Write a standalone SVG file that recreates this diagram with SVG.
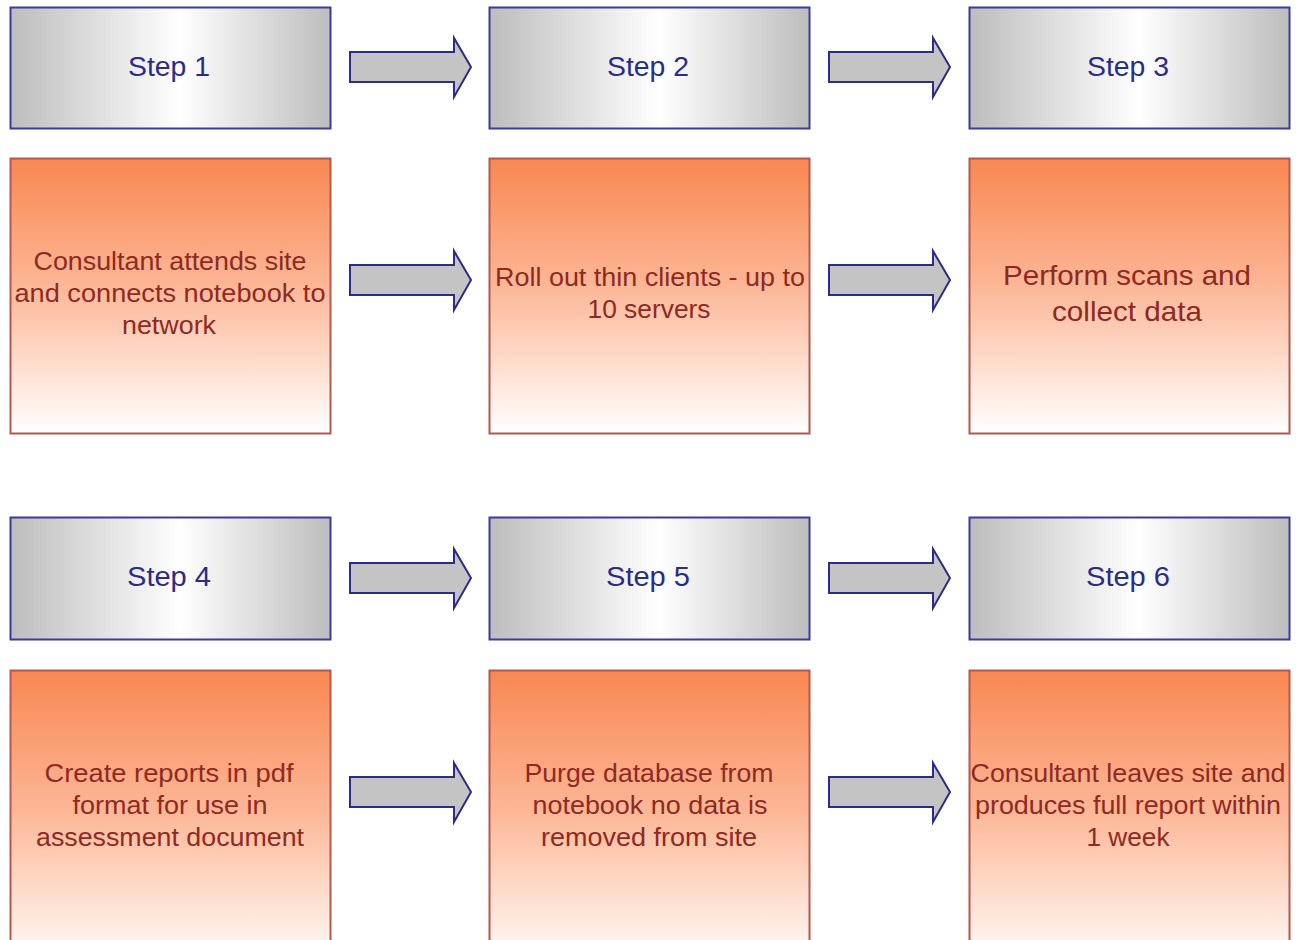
<svg xmlns="http://www.w3.org/2000/svg" width="1303" height="940" viewBox="0 0 1303 940">
<defs>
<linearGradient id="gstep" x1="0" y1="0" x2="1" y2="0">
<stop offset="0" stop-color="#bdbdbd"/>
<stop offset="0.53" stop-color="#ffffff"/>
<stop offset="1" stop-color="#bdbdbd"/>
</linearGradient>
<linearGradient id="gorange" x1="0" y1="0" x2="0" y2="1">
<stop offset="0" stop-color="#f98752"/>
<stop offset="0.45" stop-color="#fcb594"/>
<stop offset="1" stop-color="#ffffff"/>
</linearGradient>
<linearGradient id="gorange2" x1="0" y1="0" x2="0" y2="1">
<stop offset="0" stop-color="#f98752"/>
<stop offset="0.47" stop-color="#fcb594"/>
<stop offset="1" stop-color="#fffbf9"/>
</linearGradient>
</defs>
<style>
.step{fill:url(#gstep);stroke:#3b3b9e;stroke-width:2}
.task{fill:url(#gorange);stroke:#b4594f;stroke-width:2}
.task2{fill:url(#gorange2);stroke:#b4594f;stroke-width:2}
.st{font-family:"Liberation Sans",Arial,sans-serif;font-size:27px;fill:#2b2b8c;text-anchor:middle}
.tt{font-family:"Liberation Sans",Arial,sans-serif;font-size:26px;fill:#8e2a22;text-anchor:middle}
.tb{font-family:"Liberation Sans",Arial,sans-serif;font-size:28.5px;fill:#8e2a22;text-anchor:middle}
.arr{fill:#c4c4c4;stroke:#2b2b8c;stroke-width:2;stroke-linejoin:miter}
</style>
<g id="step1"><rect class="step" x="10.5" y="7.5" width="320" height="121"/><text class="st" x="169" y="76" textLength="82" lengthAdjust="spacingAndGlyphs">Step 1</text></g>
<g id="step2"><rect class="step" x="489.5" y="7.5" width="320" height="121"/><text class="st" x="648" y="76" textLength="82" lengthAdjust="spacingAndGlyphs">Step 2</text></g>
<g id="step3"><rect class="step" x="969.5" y="7.5" width="320" height="121"/><text class="st" x="1128" y="76" textLength="82" lengthAdjust="spacingAndGlyphs">Step 3</text></g>
<g id="task1"><rect class="task" x="10.5" y="158.5" width="320" height="275"/>
<text class="tt" x="170" y="270" textLength="273" lengthAdjust="spacingAndGlyphs">Consultant attends site</text>
<text class="tt" x="170" y="302" textLength="311" lengthAdjust="spacingAndGlyphs">and connects notebook to</text>
<text class="tt" x="169" y="334" textLength="94" lengthAdjust="spacingAndGlyphs">network</text></g>
<g id="task2"><rect class="task" x="489.5" y="158.5" width="320" height="275"/>
<text class="tt" x="650" y="286" textLength="310" lengthAdjust="spacingAndGlyphs">Roll out thin clients - up to</text>
<text class="tt" x="649" y="318" textLength="123" lengthAdjust="spacingAndGlyphs">10 servers</text></g>
<g id="task3"><rect class="task" x="969.5" y="158.5" width="320" height="275"/>
<text class="tb" x="1127" y="285" textLength="248" lengthAdjust="spacingAndGlyphs">Perform scans and</text>
<text class="tb" x="1127" y="321" textLength="150" lengthAdjust="spacingAndGlyphs">collect data</text></g>
<g id="step4"><rect class="step" x="10.5" y="517.5" width="320" height="122"/><text class="st" x="169" y="586" textLength="84" lengthAdjust="spacingAndGlyphs">Step 4</text></g>
<g id="step5"><rect class="step" x="489.5" y="517.5" width="320" height="122"/><text class="st" x="648" y="586" textLength="84" lengthAdjust="spacingAndGlyphs">Step 5</text></g>
<g id="step6"><rect class="step" x="969.5" y="517.5" width="320" height="122"/><text class="st" x="1128" y="586" textLength="84" lengthAdjust="spacingAndGlyphs">Step 6</text></g>
<g id="task4"><rect class="task2" x="10.5" y="670.5" width="320" height="290"/>
<text class="tt" x="169" y="782" textLength="249" lengthAdjust="spacingAndGlyphs">Create reports in pdf</text>
<text class="tt" x="170" y="814" textLength="195" lengthAdjust="spacingAndGlyphs">format for use in</text>
<text class="tt" x="170" y="846" textLength="268" lengthAdjust="spacingAndGlyphs">assessment document</text></g>
<g id="task5"><rect class="task2" x="489.5" y="670.5" width="320" height="290"/>
<text class="tt" x="649" y="782" textLength="249" lengthAdjust="spacingAndGlyphs">Purge database from</text>
<text class="tt" x="650" y="814" textLength="235" lengthAdjust="spacingAndGlyphs">notebook no data is</text>
<text class="tt" x="649" y="846" textLength="216" lengthAdjust="spacingAndGlyphs">removed from site</text></g>
<g id="task6"><rect class="task2" x="969.5" y="670.5" width="320" height="290"/>
<text class="tt" x="1128" y="782" textLength="315" lengthAdjust="spacingAndGlyphs">Consultant leaves site and</text>
<text class="tt" x="1128" y="814" textLength="306" lengthAdjust="spacingAndGlyphs">produces full report within</text>
<text class="tt" x="1128" y="846" textLength="83" lengthAdjust="spacingAndGlyphs">1 week</text></g>
<g id="connectors">
<path class="arr" d="M350,52 H454 V38 L471,67 L454,97 V82 H350 Z"/>
<path class="arr" d="M829,52 H933 V38 L950,67 L933,97 V82 H829 Z"/>
<path class="arr" d="M350,265 H454 V251 L471,280 L454,310 V295 H350 Z"/>
<path class="arr" d="M829,265 H933 V251 L950,280 L933,310 V295 H829 Z"/>
<path class="arr" d="M350,563 H454 V549 L471,578 L454,608 V593 H350 Z"/>
<path class="arr" d="M829,563 H933 V549 L950,578 L933,608 V593 H829 Z"/>
<path class="arr" d="M350,777 H454 V763 L471,792 L454,822 V807 H350 Z"/>
<path class="arr" d="M829,777 H933 V763 L950,792 L933,822 V807 H829 Z"/>
</g>
</svg>
